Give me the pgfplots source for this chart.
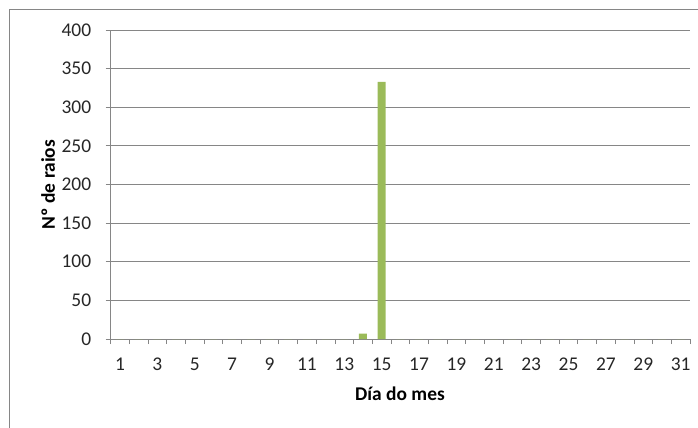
\documentclass[border=0pt]{standalone}
\usepackage{fontspec}
\setmainfont{Carlito}
\usepackage{pgfplots}
\pgfplotsset{compat=1.18}
\definecolor{gridc}{HTML}{868686}
\definecolor{barc}{HTML}{9BBB59}
\begin{document}
\begin{tikzpicture}
\useasboundingbox (-110.7bp,-89bp) rectangle (587.3bp,339bp);
\draw[gridc, line width=0.8bp] (-101.7bp,-120bp) -- (-101.7bp,330bp) -- (620bp,330bp);
\begin{axis}[
  at={(0,0)}, anchor=origin,
  scale only axis,
  width=579.3bp, height=309bp,
  xmin=0.5, xmax=31.5, ymin=0, ymax=400,
  axis x line*=bottom, axis y line*=left,
  axis line style={gridc, line width=0.8bp},
  xtick={1,3,...,31},
  minor xtick={0.5,1.5,...,31.5},
  ytick={0,50,...,400},
  major x tick style={draw=none},
  minor x tick style={gridc, line width=0.8bp},
  y tick style={gridc, line width=0.8bp},
  tick align=outside,
  major tick length=5bp, minor tick length=5bp,
  ymajorgrids, grid style={gridc, line width=0.8bp},
  tick label style={font=\fontsize{19.5}{21}\selectfont, text=black!85},
  /pgf/number format/assume math mode=true,
  xticklabel style={anchor=base, yshift=-26bp},
  yticklabel style={xshift=-11bp},
  xlabel={\textbf{Día do mes}},
  ylabel={\textbf{Nº de raios}},
  label style={font=\fontsize{19.5}{21}\selectfont},
  x label style={at={(axis description cs:0.4994,-0.178)}, anchor=center},
  y label style={at={(axis description cs:-0.1082,0.5)}, anchor=center, rotate=0},
  ybar, bar width=8bp,
]
\addplot[fill=barc, draw=none] coordinates {
(1,0) (2,0) (3,0) (4,0) (5,0) (6,0) (7,0) (8,0) (9,0) (10,0)
(11,0) (12,0) (13,0) (14,7) (15,333) (16,0) (17,0) (18,0) (19,0) (20,0)
(21,0) (22,0) (23,0) (24,0) (25,0) (26,0) (27,0) (28,0) (29,0) (30,0) (31,0)
};
\end{axis}
\end{tikzpicture}
\end{document}
